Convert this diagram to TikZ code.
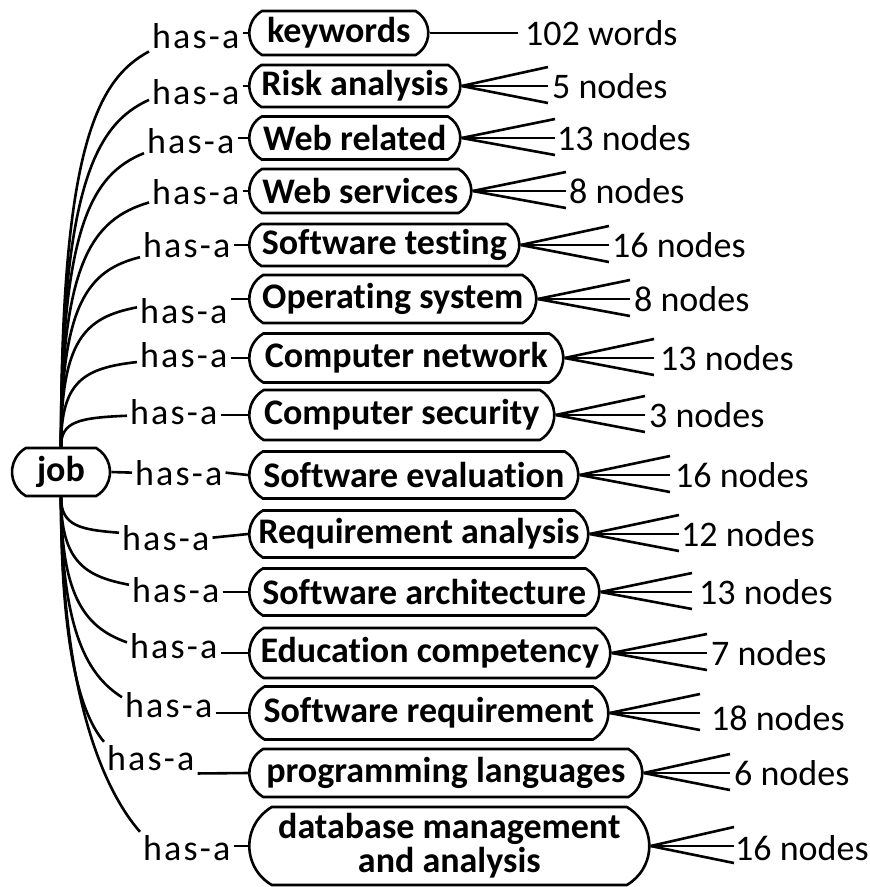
\documentclass[tikz,border=0pt]{standalone}
\usepackage{fontspec}
\setmainfont{Carlito}[Ligatures=NoCommon]
\newfontfamily\hasafont{Carlito}[LetterSpace=6,Ligatures=NoCommon]
\usetikzlibrary{shapes.misc,calc}
% #1 id, #2 box centre y, #3 box width, #4 box height, #5 box text,
% #6 fan tip x, #7 label x, #8 label y, #9 label text
\newcommand{\catrow}[9]{%
  \node[catbox, minimum width=#3, minimum height=#4] (b#1) at (248,#2) {#5};
  \coordinate (m#1) at (#6,#2);
  \coordinate (t#1) at ($(m#1)+(0,-19)$);
  \coordinate (u#1) at ($(m#1)+(0,17)$);
  \node[cnt] (l#1) at (#7,#8) {#9};
  \draw[conn] (b#1.east) -- (t#1);
  \draw[conn] (b#1.east) -- (m#1);
  \draw[conn] (b#1.east) -- (u#1);
}
\tikzset{
  conn/.style={line width=2.6pt},
  catbox/.style={draw, line width=2.6pt, rounded rectangle, rounded rectangle arc length=120,
    anchor=west, inner xsep=0pt, inner ysep=1pt, align=center,
    font=\bfseries\fontsize{36}{34}\selectfont},
  cnt/.style={anchor=west, inner sep=2pt, font=\fontsize{36}{40}\selectfont},
  hasa/.style={anchor=base west, inner xsep=3pt, inner ysep=3pt, font=\hasafont\fontsize{36}{40}\selectfont},
}
\begin{document}
\begin{tikzpicture}[x=1pt, y=-1pt]
\useasboundingbox (0,0) rectangle (870,887);
\fill[white] (0,0) rectangle (870,887);

% root
\node[catbox, anchor=center, minimum width=98, minimum height=48] (job) at (61,472) {job};

% first row (single line)
\node[catbox, minimum width=179, minimum height=44] (b1) at (248,33) {keywords};
\coordinate (m1) at (518,33);
\node[cnt] (l1) at (523,33) {102 words};
\draw[conn] (b1.east) -- (m1);

% rows with fans
\catrow{2}{86}{211}{42}{Risk analysis}{548}{550}{86}{5 nodes}
\catrow{3}{138}{211}{43}{Web related}{555}{555}{138}{13 nodes}
\catrow{4}{191}{222}{44}{Web services}{566}{567}{191}{8 nodes}
\catrow{5}{245}{270}{42}{Software testing}{609}{610}{245}{16 nodes}
\catrow{6}{299}{287}{48}{Operating system}{630}{632}{299}{8 nodes}
\catrow{7}{358}{314}{49}{Computer network}{654}{658}{358}{13 nodes}
\catrow{8}{415}{305}{50}{Computer security}{645}{647}{415}{3 nodes}
\catrow{9}{475}{329}{47}{Software evaluation}{670}{673}{475}{16 nodes}
\catrow{10}{534}{339}{47}{Requirement analysis}{679}{679}{534}{12 nodes}
\catrow{11}{592}{350}{47}{Software architecture}{692}{697}{592}{13 nodes}
\catrow{12}{653}{361}{50}{Education competency}{707}{709}{653}{7 nodes}
\catrow{13}{713}{359}{53}{Software requirement}{700}{709}{718}{18 nodes}
\catrow{14}{773}{393}{48}{programming languages}{730}{732}{773}{6 nodes}
\catrow{15}{846}{400}{78}{database management\\and analysis}{734}{733}{848}{16 nodes}

% has-a labels
\node[hasa] (h1) at (149,48) {has-a};
\node[hasa] (h2) at (149,104) {has-a};
\node[hasa] (h3) at (144,153) {has-a};
\node[hasa] (h4) at (149,204) {has-a};
\node[hasa] (h5) at (140,257) {has-a};
\node[hasa] (h6) at (137,323) {has-a};
\node[hasa] (h7) at (137,367) {has-a};
\node[hasa] (h8) at (127,424) {has-a};
\node[hasa] (h9) at (132,485) {has-a};
\node[hasa] (h10) at (119,550) {has-a};
\node[hasa] (h11) at (129,602) {has-a};
\node[hasa] (h12) at (127,658) {has-a};
\node[hasa] (h13) at (122,717) {has-a};
\node[hasa] (h14) at (104,770) {has-a};
\node[hasa] (h15) at (140,860) {has-a};

% has-a to category boxes
\foreach \i in {1,2,3,4,5,6,7,8,11,12,13,15}{
  \draw[conn] (h\i.east |- b\i.west) -- (b\i.west);
}
\draw[conn] (h9.east) -- (b9.west);
\draw[conn] (h10.east) -- (b10.west);
\draw[conn] (h14.south east) -- (b14.west);

% root to has-a
\draw[conn] (job.east) -- (h9.west);
\draw[conn] (job.north) .. controls +(0,-299) and +(-52,28) .. (h1.south west);
\draw[conn] (job.north) .. controls +(0,-261) and +(-53,24) .. (h2.190);
\draw[conn] (job.north) .. controls +(0,-221) and +(-52,21) .. (h3.195);
\draw[conn] (job.north) .. controls +(0,-185) and +(-57,17) .. (h4.193);
\draw[conn] (job.north) .. controls +(0,-143) and +(-52,13) .. (h5.195);
\draw[conn] (job.north) .. controls +(0,-106) and +(-53,10) .. (h6.176);
\draw[conn] (job.north) .. controls +(0,-65) and +(-54,6) .. (h7.189);
\draw[conn] (job.north) .. controls +(0,-25) and +(-49,2) .. (h8.185);
\draw[conn] (job.south) .. controls +(0,29) and +(-38,-3) .. (h10.174);
\draw[conn] (job.south) .. controls +(0,66) and +(-42,-8) .. (h11.174);
\draw[conn] (job.south) .. controls +(0,104) and +(-39,-14) .. (h12.176);
\draw[conn] (job.south) .. controls +(0,137) and +(-33,-21) .. (h13.171);
\draw[conn] (job.south) .. controls +(0,157) and +(-22,-26) .. (h14.north west);
\draw[conn] (job.south) .. controls +(0,200) and +(-35,-40) .. (h15.north west);
\end{tikzpicture}
\end{document}
